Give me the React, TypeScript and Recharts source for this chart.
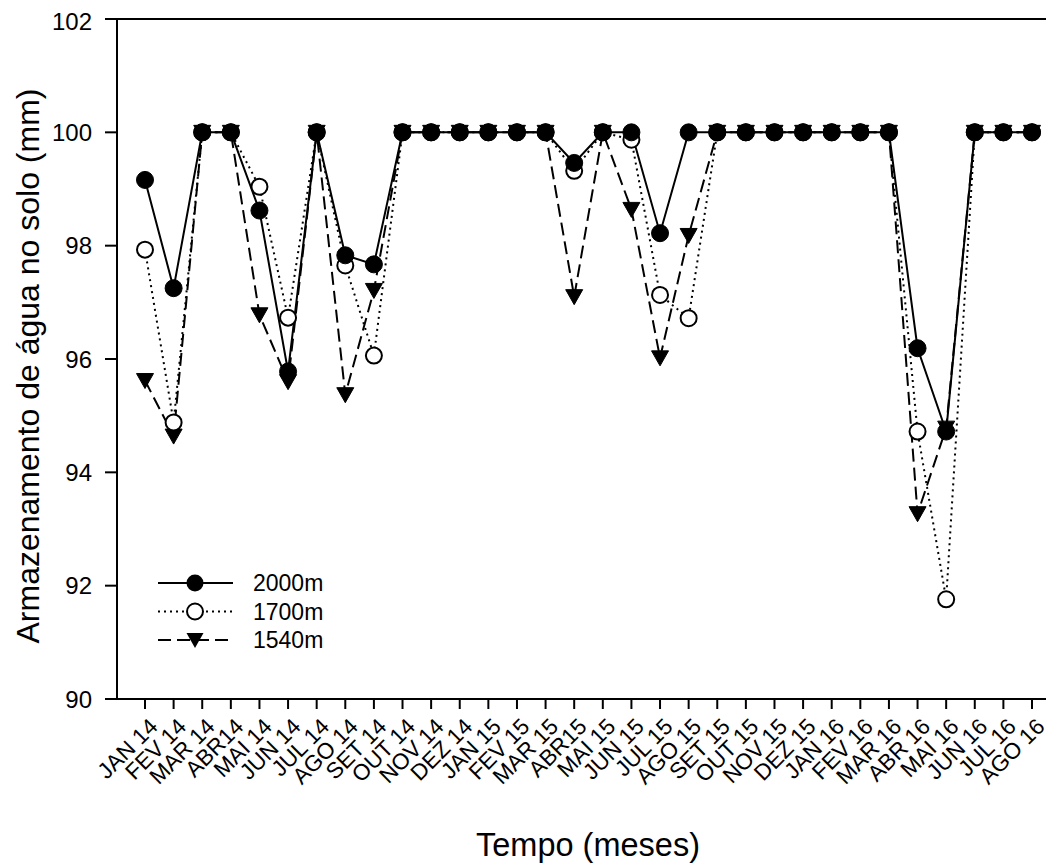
import {
  Legend,
  Line,
  LineChart,
  ReferenceLine,
  XAxis,
  YAxis,
} from "recharts";

const months = [
  "JAN 14", "FEV 14", "MAR 14", "ABR14", "MAI 14", "JUN 14", "JUL 14", "AGO 14",
  "SET 14", "OUT 14", "NOV 14", "DEZ 14", "JAN 15", "FEV 15", "MAR 15", "ABR15",
  "MAI 15", "JUN 15", "JUL 15", "AGO 15", "SET 15", "OUT 15", "NOV 15", "DEZ 15",
  "JAN 16", "FEV 16", "MAR 16", "ABR 16", "MAI 16", "JUN 16", "JUL 16", "AGO 16",
];

const s2000 = [
  99.16, 97.25, 100, 100, 98.62, 95.78, 100, 97.83,
  97.67, 100, 100, 100, 100, 100, 100, 99.46,
  100, 100, 98.22, 100, 100, 100, 100, 100,
  100, 100, 100, 96.19, 94.72, 100, 100, 100,
];

const s1700 = [
  97.93, 94.88, 100, 100, 99.04, 96.73, 100, 97.65,
  96.06, 100, 100, 100, 100, 100, 100, 99.32,
  100, 99.87, 97.13, 96.72, 100, 100, 100, 100,
  100, 100, 100, 94.72, 91.76, 100, 100, 100,
];

const s1540 = [
  95.62, 94.64, 100, 100, 96.78, 95.6, 100, 95.37,
  97.21, 100, 100, 100, 100, 100, 100, 97.1,
  100, 98.64, 96.02, 98.18, 100, 100, 100, 100,
  100, 100, 100, 93.27, 94.78, 100, 100, 100,
];

const yTicks = [90, 92, 94, 96, 98, 100, 102];

const data = months.map((m, i) => ({
  month: m,
  a: s2000[i],
  b: s1700[i],
  c: s1540[i],
}));

const FONT = "'Liberation Sans', Arial, sans-serif";

const Triangle = (props: any) => {
  const { cx, cy, index } = props;
  if (cx == null || cy == null) return null;
  return (
    <path
      key={`tri-${index}`}
      d={`M${cx - 8.5},${cy - 7} L${cx + 8.5},${cy - 7} L${cx},${cy + 8} Z`}
      fill="#000"
      stroke="#000"
      strokeWidth={1}
    />
  );
};

const MonthTick = (props: any) => {
  const { x, y, payload } = props;
  return (
    <g transform={`translate(${x + 14},${y + 19})`}>
      <text
        x={0}
        y={0}
        textAnchor="end"
        transform="rotate(-45)"
        fontFamily={FONT}
        fontSize={22.5}
        fill="#000"
      >
        {payload.value}
      </text>
    </g>
  );
};

const renderLegend = () => {
  const rows = [
    { name: "2000m", dash: undefined, mark: "filled" },
    { name: "1700m", dash: "2 4", mark: "open" },
    { name: "1540m", dash: "13 6", mark: "tri" },
  ];
  return (
    <svg width={220} height={90}>
      {rows.map((r, i) => {
        const y = 15 + i * 28.5;
        return (
          <g key={r.name}>
            <line x1={8} x2={83} y1={y} y2={y} stroke="#000" strokeWidth={2} strokeDasharray={r.dash} />
            {r.mark === "filled" && <circle cx={45} cy={y} r={8.5} fill="#000" />}
            {r.mark === "open" && <circle cx={45} cy={y} r={8} fill="#fff" stroke="#000" strokeWidth={2} />}
            {r.mark === "tri" && (
              <path d={`M${45 - 8.5},${y - 7} L${45 + 8.5},${y - 7} L45,${y + 8} Z`} fill="#000" />
            )}
            <text x={103} y={y + 8} fontFamily={FONT} fontSize={23} fill="#000">
              {r.name}
            </text>
          </g>
        );
      })}
    </svg>
  );
};

export default function App() {
  return (
    <LineChart
      width={1046}
      height={859}
      data={data}
      margin={{ top: 11, right: 3, left: 0, bottom: 0 }}
    >
      <XAxis
        dataKey="month"
        scale="point"
        padding={{ left: 28, right: 19 }}
        interval={0}
        height={168}
        tickSize={10}
        tickMargin={0}
        tick={<MonthTick />}
        axisLine={{ stroke: "#000", strokeWidth: 2 }}
        tickLine={{ stroke: "#000", strokeWidth: 2 }}
        label={{
          content: (p: any) => {
            const vb = p.viewBox || {};
            return (
              <text
                x={vb.x + vb.width / 2 + 4}
                y={848}
                textAnchor="middle"
                fontFamily={FONT}
                fontSize={32.5}
                fill="#000"
              >
                Tempo (meses)
              </text>
            );
          },
        }}
      />
      <YAxis
        type="number"
        domain={[90, 102]}
        ticks={yTicks}
        width={109}
        tickSize={12}
        tickMargin={13}
        tick={{ fontFamily: FONT, fontSize: 24, fill: "#000" }}
        axisLine={{ stroke: "#000", strokeWidth: 2 }}
        tickLine={{ stroke: "#000", strokeWidth: 2 }}
        label={{
          content: () => (
            <text
              x={31}
              y={358}
              transform="rotate(-90 31 358)"
              textAnchor="middle"
              fontFamily={FONT}
              fontSize={32}
              fill="#000"
            >
              Armazenamento de água no solo (mm)
            </text>
          ),
        }}
      />
      <ReferenceLine y={102} stroke="#000" strokeWidth={2} />
      <Line
        dataKey="c"
        name="1540m"
        type="linear"
        stroke="#000"
        strokeWidth={2}
        strokeDasharray="13 6"
        dot={<Triangle />}
        isAnimationActive={false}
      />
      <Line
        dataKey="b"
        name="1700m"
        type="linear"
        stroke="#000"
        strokeWidth={2}
        strokeDasharray="2 4"
        dot={{ r: 8, fill: "#fff", stroke: "#000", strokeWidth: 2, strokeDasharray: "" }}
        isAnimationActive={false}
      />
      <Line
        dataKey="a"
        name="2000m"
        type="linear"
        stroke="#000"
        strokeWidth={2}
        dot={{ r: 8.5, fill: "#000", stroke: "#000", strokeWidth: 1 }}
        isAnimationActive={false}
      />
      <Legend
        layout="vertical"
        align="center"
        verticalAlign="middle"
        content={renderLegend}
        wrapperStyle={{ left: 142, top: 560, width: 220, height: 90 }}
      />
    </LineChart>
  );
}
